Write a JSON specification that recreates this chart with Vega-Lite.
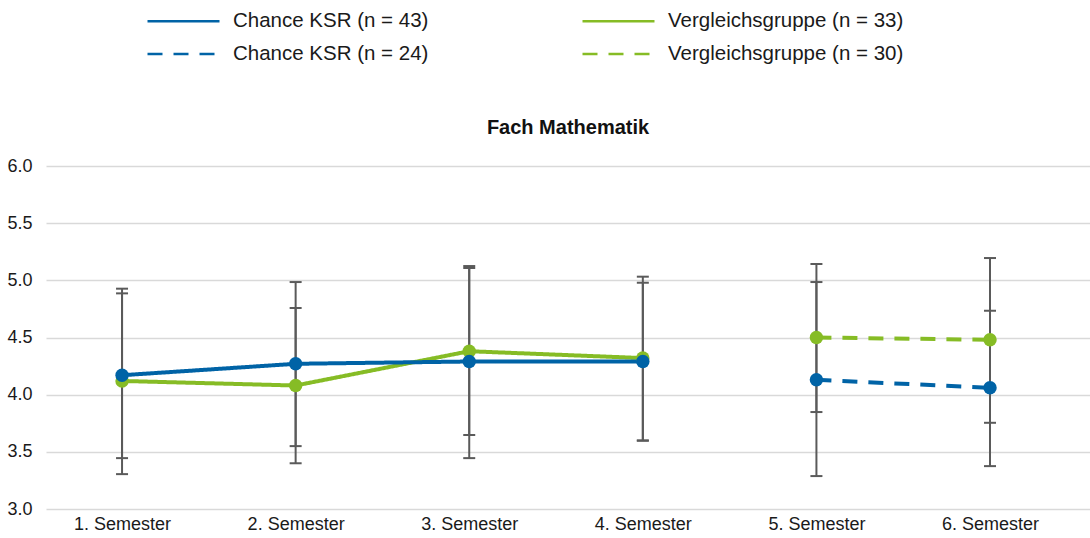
{
  "$schema": "https://vega.github.io/schema/vega-lite/v6.json",
  "width": 1044,
  "height": 343,
  "autosize": {"type": "none"},
  "padding": {"left": 46, "top": 166, "right": 0, "bottom": 29},
  "background": "white",
  "config": {"view": {"stroke": null}, "font": "Liberation Sans"},
  "title": {"text": "Fach Mathematik", "fontSize": 20, "fontWeight": "bold", "font": "Liberation Sans", "color": "#111111", "offset": 26, "dy": 153, "anchor": "middle"},
  "data": {"values": [
    {"semester": "1. Semester", "series": "Vergleichsgruppe (n = 33)", "mean": 4.12, "lo": 3.305, "hi": 4.927},
    {"semester": "2. Semester", "series": "Vergleichsgruppe (n = 33)", "mean": 4.08, "lo": 3.40, "hi": 4.758},
    {"semester": "3. Semester", "series": "Vergleichsgruppe (n = 33)", "mean": 4.38, "lo": 3.647, "hi": 5.108},
    {"semester": "4. Semester", "series": "Vergleichsgruppe (n = 33)", "mean": 4.32, "lo": 3.60, "hi": 5.032},
    {"semester": "5. Semester", "series": "Vergleichsgruppe (n = 30)", "mean": 4.50, "lo": 3.848, "hi": 5.143},
    {"semester": "6. Semester", "series": "Vergleichsgruppe (n = 30)", "mean": 4.48, "lo": 3.754, "hi": 5.195},
    {"semester": "1. Semester", "series": "Chance KSR (n = 43)", "mean": 4.17, "lo": 3.445, "hi": 4.886},
    {"semester": "2. Semester", "series": "Chance KSR (n = 43)", "mean": 4.27, "lo": 3.55, "hi": 4.985},
    {"semester": "3. Semester", "series": "Chance KSR (n = 43)", "mean": 4.29, "lo": 3.445, "hi": 5.125},
    {"semester": "4. Semester", "series": "Chance KSR (n = 43)", "mean": 4.29, "lo": 3.597, "hi": 4.979},
    {"semester": "5. Semester", "series": "Chance KSR (n = 24)", "mean": 4.13, "lo": 3.288, "hi": 4.985},
    {"semester": "6. Semester", "series": "Chance KSR (n = 24)", "mean": 4.06, "lo": 3.375, "hi": 4.734}
  ]},
  "encoding": {
    "x": {
      "field": "semester", "type": "nominal",
      "sort": ["1. Semester", "2. Semester", "3. Semester", "4. Semester", "5. Semester", "6. Semester"],
      "scale": {"type": "point", "padding": 0.507, "align": 0.432},
      "axis": {"title": null, "domain": false, "ticks": false, "grid": false, "labelAngle": 0, "labelFontSize": 18, "labelFont": "Liberation Sans", "labelColor": "#1a1a1a", "labelPadding": 6}
    }
  },
  "layer": [
    {
      "mark": {"type": "rule", "color": "#5a5a5a", "strokeWidth": 2},
      "encoding": {
        "y": {"field": "lo", "type": "quantitative", "scale": {"domain": [3, 6]},
          "axis": {"title": null, "values": [3, 3.5, 4, 4.5, 5, 5.5, 6], "format": ".1f", "domain": false, "ticks": false, "grid": true, "gridColor": "#d9d9d9", "gridWidth": 1.5, "labelFontSize": 18, "labelFont": "Liberation Sans", "labelColor": "#1a1a1a", "labelPadding": 14}},
        "y2": {"field": "hi"}
      }
    },
    {
      "mark": {"type": "tick", "color": "#5a5a5a", "thickness": 2, "size": 12, "opacity": 1},
      "encoding": {"y": {"field": "lo", "type": "quantitative"}}
    },
    {
      "mark": {"type": "tick", "color": "#5a5a5a", "thickness": 2, "size": 12, "opacity": 1},
      "encoding": {"y": {"field": "hi", "type": "quantitative"}}
    },
    {
      "mark": {"type": "line", "strokeWidth": 4},
      "encoding": {
        "y": {"field": "mean", "type": "quantitative"},
        "color": {"field": "series", "type": "nominal",
          "scale": {"domain": ["Chance KSR (n = 43)", "Chance KSR (n = 24)", "Vergleichsgruppe (n = 33)", "Vergleichsgruppe (n = 30)"], "range": ["#0063a6", "#0063a6", "#86bc25", "#86bc25"]},
          "legend": {"title": null, "orient": "none", "legendX": 100, "legendY": -155, "columns": 2, "columnPadding": 152, "rowPadding": 12, "symbolType": "stroke", "symbolSize": 5184, "symbolStrokeWidth": 2.5, "clipHeight": 20, "labelFontSize": 20.5, "labelFont": "Liberation Sans", "labelColor": "#1a1a1a", "labelOffset": 12, "padding": 0, "labelLimit": 400}},
        "strokeDash": {"field": "series", "type": "nominal",
          "scale": {"domain": ["Chance KSR (n = 43)", "Chance KSR (n = 24)", "Vergleichsgruppe (n = 33)", "Vergleichsgruppe (n = 30)"], "range": [[1, 0], [15, 11], [1, 0], [15, 11]]},
          "legend": {"title": null, "orient": "none", "legendX": 100, "legendY": -155, "columns": 2, "columnPadding": 152, "rowPadding": 12, "symbolType": "stroke", "symbolSize": 5184, "symbolStrokeWidth": 2.5, "clipHeight": 20, "labelFontSize": 20.5, "labelFont": "Liberation Sans", "labelColor": "#1a1a1a", "labelOffset": 12, "padding": 0, "labelLimit": 400}}
      }
    },
    {
      "mark": {"type": "point", "filled": true, "size": 180, "opacity": 1},
      "encoding": {
        "y": {"field": "mean", "type": "quantitative"},
        "fill": {"field": "series", "type": "nominal",
          "scale": {"domain": ["Chance KSR (n = 43)", "Chance KSR (n = 24)", "Vergleichsgruppe (n = 33)", "Vergleichsgruppe (n = 30)"], "range": ["#0063a6", "#0063a6", "#86bc25", "#86bc25"]},
          "legend": null}
      }
    }
  ]
}
